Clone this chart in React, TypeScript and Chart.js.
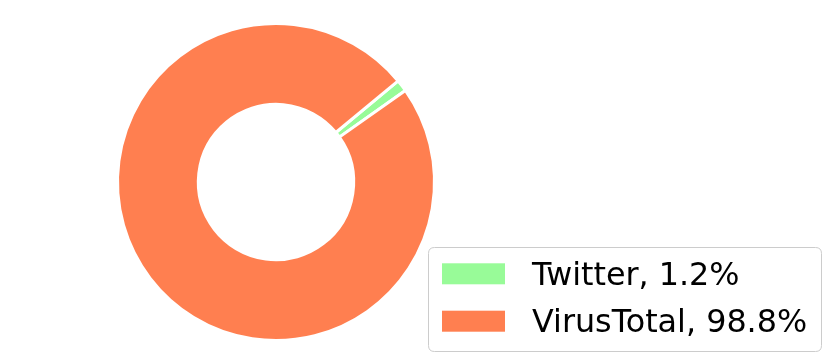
import React, { useEffect, useRef } from "react";
import { Chart, registerables } from "chart.js";

Chart.register(...registerables);

const categories = ["Twitter", "VirusTotal"];
const shares = [1.2, 98.8];
const colors = ["#98FB98", "#FF7F50"];

const legendPlugin = {
  id: "boxLegend",
  afterDraw(chart: any) {
    const ctx = chart.ctx as CanvasRenderingContext2D;
    const x0 = 428.5, y0 = 247.5, w = 393, h = 104, r = 6;
    ctx.save();
    ctx.beginPath();
    ctx.moveTo(x0 + r, y0);
    ctx.lineTo(x0 + w - r, y0);
    ctx.quadraticCurveTo(x0 + w, y0, x0 + w, y0 + r);
    ctx.lineTo(x0 + w, y0 + h - r);
    ctx.quadraticCurveTo(x0 + w, y0 + h, x0 + w - r, y0 + h);
    ctx.lineTo(x0 + r, y0 + h);
    ctx.quadraticCurveTo(x0, y0 + h, x0, y0 + h - r);
    ctx.lineTo(x0, y0 + r);
    ctx.quadraticCurveTo(x0, y0, x0 + r, y0);
    ctx.closePath();
    ctx.fillStyle = "rgba(255,255,255,0.8)";
    ctx.fill();
    ctx.strokeStyle = "#cccccc";
    ctx.lineWidth = 1;
    ctx.stroke();
    const labels = chart.data.labels as string[];
    const ds = chart.data.datasets[0];
    ctx.font = '31.8px "DejaVu Sans"';
    ctx.textBaseline = "alphabetic";
    labels.forEach((lab, i) => {
      const cy = 273.8 + i * 47.4;
      ctx.fillStyle = (ds.backgroundColor as string[])[i];
      ctx.fillRect(442, cy - 10.5, 63, 21);
      ctx.fillStyle = "#000";
      ctx.fillText(`${lab}, ${(ds.data as number[])[i].toFixed(1)}%`, 532, cy + 10.7);
    });
    ctx.restore();
  },
};

export default function App() {
  const ref = useRef<HTMLCanvasElement>(null);
  useEffect(() => {
    if (!ref.current) return;
    const chart = new Chart(ref.current, {
      type: "doughnut",
      data: {
        labels: categories,
        datasets: [
          {
            data: shares,
            backgroundColor: colors,
            borderColor: "#ffffff",
            borderWidth: 3,
          },
        ],
      },
      options: {
        animation: false,
        responsive: false,
        cutout: "49%",
        rotation: 50.4,
        layout: { padding: { left: 116, right: 394, top: 22, bottom: 21 } },
        plugins: { legend: { display: false }, tooltip: { enabled: false } },
      },
      plugins: [legendPlugin],
    });
    return () => chart.destroy();
  }, []);
  return (
    <div style={{ position: "absolute", left: 0, top: 0, width: 830, height: 363, background: "#fff" }}>
      <canvas ref={ref} width={830} height={363} />
    </div>
  );
}
